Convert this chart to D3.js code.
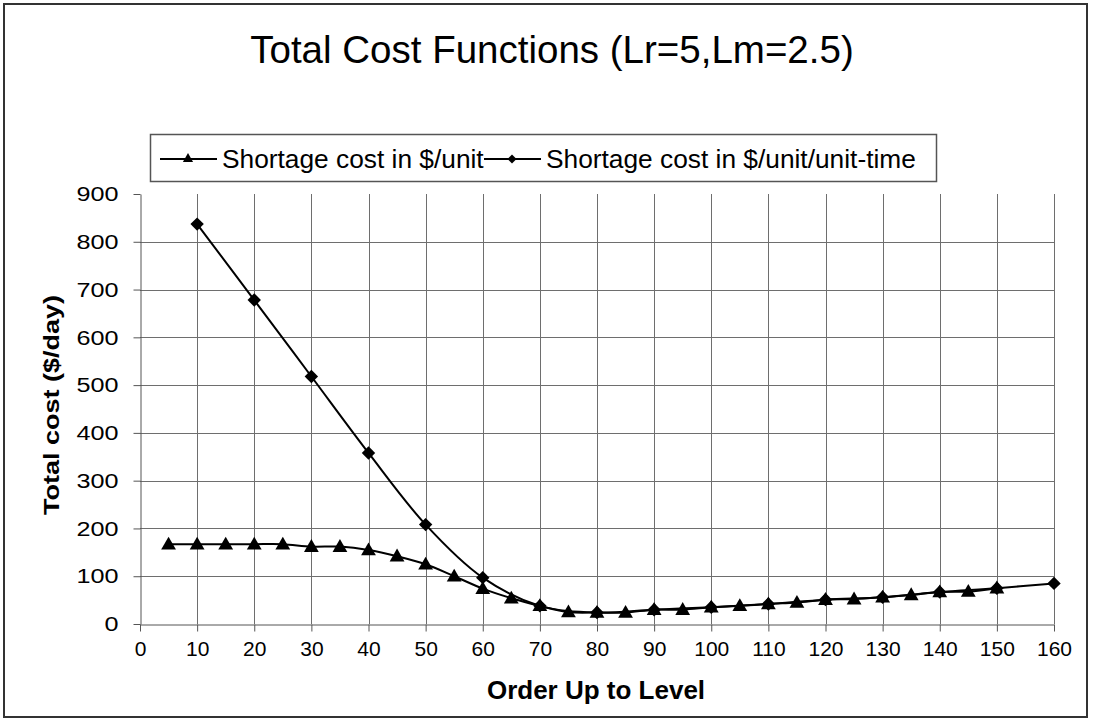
<!DOCTYPE html>
<html>
<head>
<meta charset="utf-8">
<script src="https://cdn.jsdelivr.net/npm/d3@7"></script>
<style>
  body { margin: 0; background: #fff; }
  svg { display: block; font-family: "Liberation Sans", Arial, sans-serif; }
</style>
</head>
<body>
<svg id="chart"></svg>
<script>
const global_width = 1094,
  global_height = 720;

// data
const unitLevels = [5, 10, 15, 20, 25, 30, 35, 40, 45, 50, 55, 60, 65, 70, 75,
  80, 85, 90, 95, 100, 105, 110, 115, 120, 125, 130, 135, 140, 145, 150];
const unitCost = [167, 167, 167, 167, 167, 162, 162, 155, 142, 125, 100, 74, 54, 38, 25,
  24, 24, 30, 30, 35, 38, 42, 45, 51, 52, 56, 61, 67, 68, 75];

const timeLevels = [10, 20, 30, 40, 50, 60, 70, 80, 90, 100, 110, 120, 130, 140, 150, 160];
const timeCost = [837, 678, 518, 358, 208, 97, 38, 24, 30, 35, 42, 51, 56, 67, 75, 85];

const xTicks = d3.range(0, 161, 10);
const yTicks = d3.range(0, 901, 100);

const seriesNames = ["Shortage cost in $/unit", "Shortage cost in $/unit/unit-time"];

const margin = {top: 194, right: 40, bottom: 96, left: 140};

const svg = d3.select("#chart")
  .attr("width", global_width)
  .attr("height", global_height);

// outer frame
svg.append("rect")
  .attr("x", 4).attr("y", 4)
  .attr("width", 1083).attr("height", 713)
  .attr("fill", "#fff")
  .attr("stroke", "#333")
  .attr("stroke-width", 2);

// title
svg.append("text")
  .attr("x", 552)
  .attr("y", 63)
  .attr("text-anchor", "middle")
  .attr("font-size", 38.5)
  .text("Total Cost Functions (Lr=5,Lm=2.5)");

const xScale = d3.scaleLinear().domain([0, 160]).range([margin.left, 1054]);
const yScale = d3.scaleLinear().domain([0, 900]).range([global_height - margin.bottom, margin.top]);

// gridlines
const grid = svg.append("g").attr("stroke", "#6e6e6e").attr("stroke-width", 1);
grid.selectAll(".hg")
  .data(yTicks.filter(d => d > 0 && d < 900))
  .enter().append("line")
  .attr("x1", xScale(0)).attr("x2", xScale(160))
  .attr("y1", d => Math.round(yScale(d)) + 0.5)
  .attr("y2", d => Math.round(yScale(d)) + 0.5);
grid.selectAll(".vg")
  .data(xTicks.filter(d => d > 0))
  .enter().append("line")
  .attr("y1", yScale(0)).attr("y2", yScale(900))
  .attr("x1", d => Math.round(xScale(d)) + 0.5)
  .attr("x2", d => Math.round(xScale(d)) + 0.5);

// axes
const xAxis = svg.append("g")
  .attr("transform", "translate(0," + (Math.round(yScale(0)) + 0.5) + ")")
  .call(d3.axisBottom(xScale).tickValues(xTicks).tickSize(7).tickSizeOuter(0).tickPadding(10));
xAxis.selectAll("text").attr("font-size", 21).attr("fill", "#000");

const yAxis = svg.append("g")
  .attr("transform", "translate(" + (Math.round(xScale(0)) + 0.5) + ",0)")
  .call(d3.axisLeft(yScale).tickValues(yTicks).tickSize(7).tickSizeOuter(0));
yAxis.selectAll("text")
  .attr("font-size", 21)
  .attr("fill", "#000")
  .attr("x", 0)
  .attr("transform", "translate(-22,0) scale(1.2,1)");

svg.selectAll(".domain, .tick line").attr("stroke", "#555");

// axis titles
svg.append("text")
  .attr("x", 596)
  .attr("y", 699)
  .attr("text-anchor", "middle")
  .attr("font-size", 26)
  .attr("font-weight", "bold")
  .text("Order Up to Level");

svg.append("text")
  .attr("transform", "translate(59,405) rotate(-90)")
  .attr("text-anchor", "middle")
  .attr("font-size", 22)
  .attr("font-weight", "bold")
  .attr("textLength", 220)
  .attr("lengthAdjust", "spacingAndGlyphs")
  .text("Total cost ($/day)");

// lines
const line = d3.line()
  .x(d => xScale(d[0]))
  .y(d => yScale(d[1]))
  .curve(d3.curveCatmullRom.alpha(0.5));

const timeData = timeLevels.map((x, i) => [x, timeCost[i]]);
const unitData = unitLevels.map((x, i) => [x, unitCost[i]]);

const triangle = d3.symbol().type(d3.symbolTriangle);
const diamond = d3.symbol().type(d3.symbolSquare);

svg.append("path")
  .datum(timeData)
  .attr("d", line)
  .attr("fill", "none")
  .attr("stroke", "#000")
  .attr("stroke-width", 2);

svg.append("g").selectAll("path")
  .data(timeData)
  .enter().append("path")
  .attr("d", diamond.size(90))
  .attr("transform", d => "translate(" + xScale(d[0]) + "," + yScale(d[1]) + ") rotate(45)")
  .attr("fill", "#000");

svg.append("path")
  .datum(unitData)
  .attr("d", line)
  .attr("fill", "none")
  .attr("stroke", "#000")
  .attr("stroke-width", 2);

svg.append("g").selectAll("path")
  .data(unitData)
  .enter().append("path")
  .attr("d", triangle.size(95))
  .attr("transform", d => "translate(" + xScale(d[0]) + "," + (yScale(d[1]) + 1) + ")")
  .attr("fill", "#000");

// legend
const legend = svg.append("g");
legend.append("rect")
  .attr("x", 150.5).attr("y", 134.5)
  .attr("width", 786).attr("height", 47)
  .attr("fill", "#fff")
  .attr("stroke", "#555")
  .attr("stroke-width", 1.5);

const legendItems = [
  {name: seriesNames[0], x: 160, sym: triangle.size(45), rot: 0},
  {name: seriesNames[1], x: 484, sym: diamond.size(40), rot: 45}
];
legendItems.forEach(it => {
  legend.append("line")
    .attr("x1", it.x).attr("x2", it.x + 57)
    .attr("y1", 159).attr("y2", 159)
    .attr("stroke", "#000").attr("stroke-width", 2);
  legend.append("path")
    .attr("d", it.sym)
    .attr("transform", "translate(" + (it.x + 28) + ",159) rotate(" + it.rot + ")")
    .attr("fill", "#000");
  legend.append("text")
    .attr("x", it.x + 62)
    .attr("y", 168)
    .attr("font-size", 26.3)
    .text(it.name);
});
</script>
</body>
</html>
